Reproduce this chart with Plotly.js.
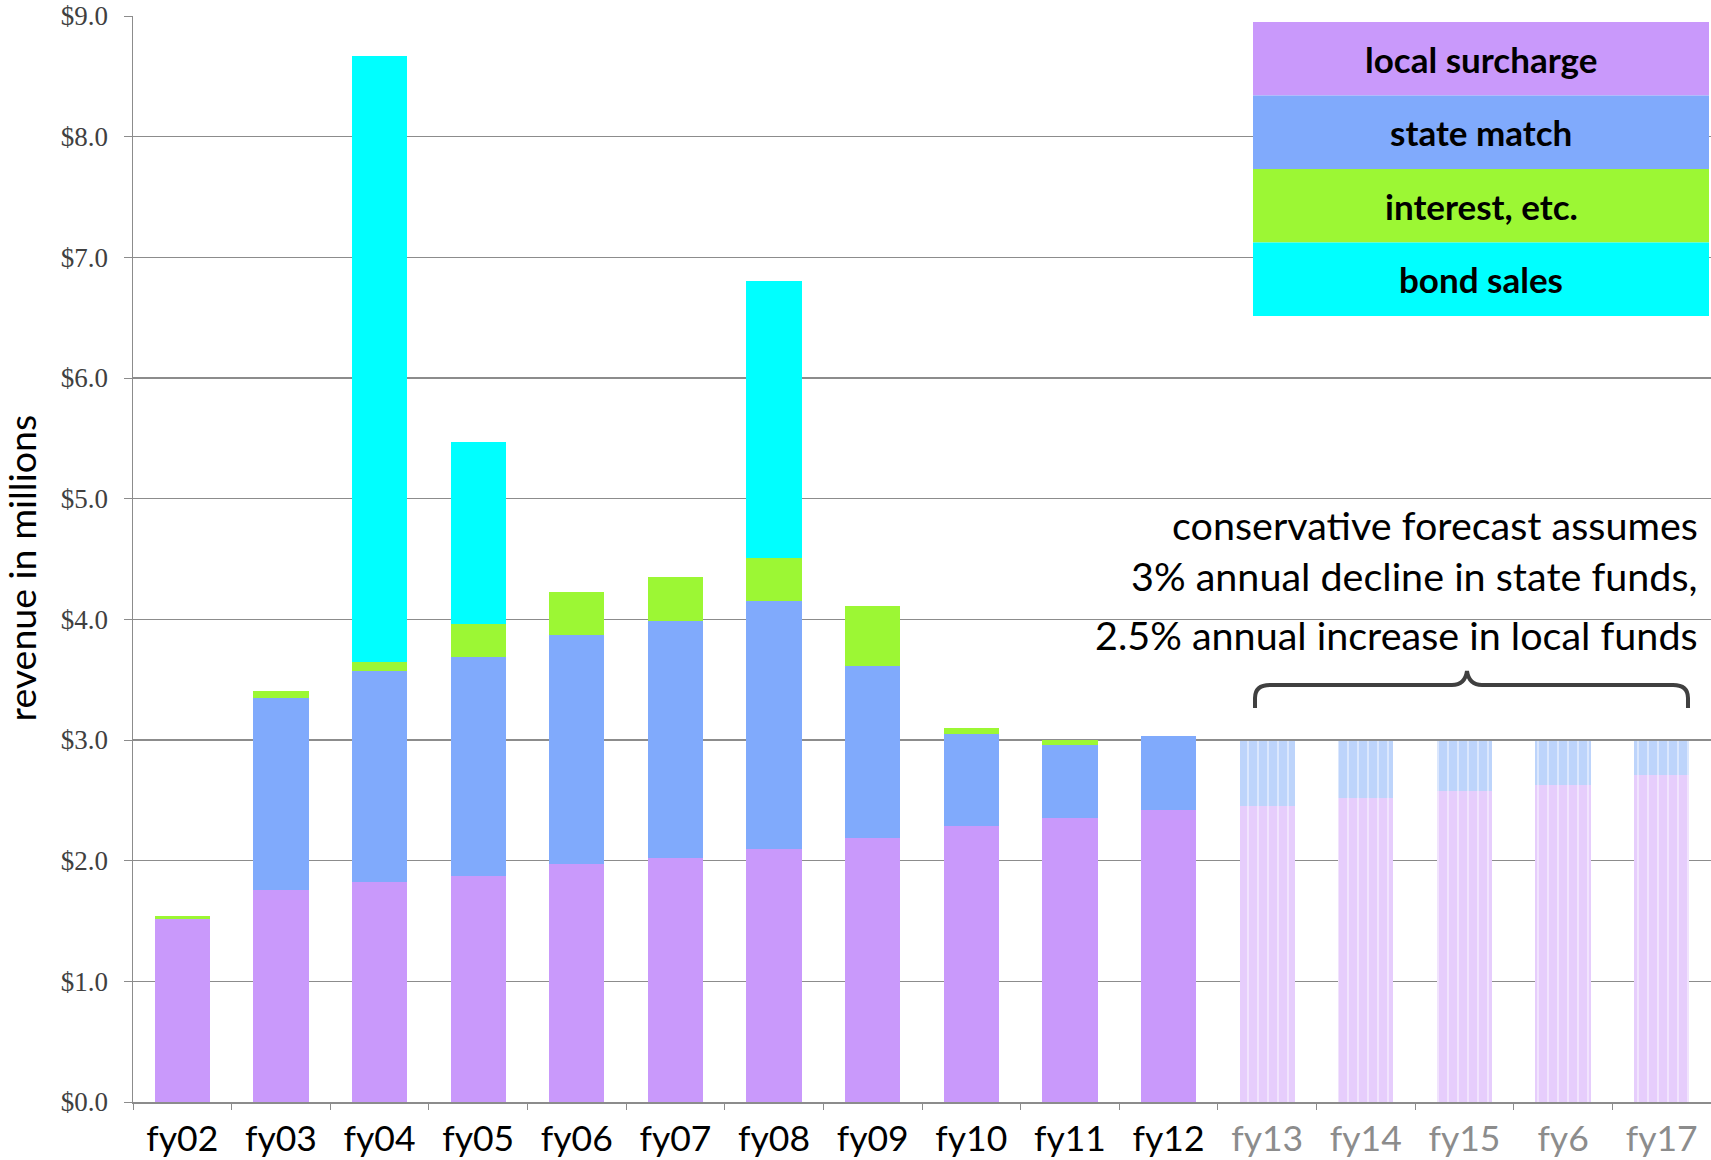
<!DOCTYPE html>
<html>
<head>
<meta charset="utf-8">
<script src="https://cdn.plot.ly/plotly-3.0.1.min.js"></script>
<style>html,body{margin:0;padding:0;background:#fff;}#chart{width:1711px;height:1160px;}</style>
</head>
<body>
<div id="chart"></div>
<script>
// ---- data (millions of dollars) ----
const years = ["fy02","fy03","fy04","fy05","fy06","fy07","fy08","fy09","fy10","fy11","fy12","fy13","fy14","fy15","fy6","fy17"];
const localSurcharge = [1.52,1.76,1.82,1.87,1.97,2.02,2.10,2.19,2.29,2.35,2.42,2.45,2.52,2.58,2.63,2.71];
const stateMatch     = [0.00,1.59,1.75,1.82,1.90,1.97,2.05,1.42,0.76,0.61,0.61,0.54,0.47,0.41,0.36,0.28];
const interestEtc    = [0.02,0.06,0.08,0.27,0.36,0.36,0.36,0.50,0.05,0.04,0.00,0,0,0,0,0];
const bondSales      = [0,0,5.02,1.51,0,0,2.29,0,0,0,0,0,0,0,0,0];
const forecastYears  = ["fy13","fy14","fy15","fy6","fy17"];
const seriesNames    = ["local surcharge","state match","interest, etc.","bond sales"];
const noteLines = ["conservative forecast assumes","3% annual decline in state funds,","2.5% annual increase in local funds"];
const yTitle = "revenue in millions";

// ---- styling ----
const sans = "Lato, 'Open Sans', sans-serif";
const isFc = years.map(y => forecastYears.includes(y));
const colLocal = "#c999fb", colLocalFc = "#e6cdfc";
const colState = "#80aafc", colStateFc = "#bdd4fb";
const colInt = "#9cf734", colBond = "#00ffff";

// historical part of each series
function histTrace(name, vals, col) {
  const xs = [], ys = [];
  years.forEach((y, i) => { if (!isFc[i]) { xs.push(y); ys.push(vals[i]); } });
  return {type: "bar", name: name, x: xs, y: ys, marker: {color: col, line: {width: 0}}, hoverinfo: "name+y"};
}
// forecast part (striped, lighter)
function fcTrace(name, vals, col) {
  const xs = [], ys = [];
  years.forEach((y, i) => { if (isFc[i]) { xs.push(y); ys.push(vals[i]); } });
  return {type: "bar", name: name + " (forecast)", x: xs, y: ys,
    marker: {color: col, line: {width: 0},
      pattern: {shape: "|", bgcolor: col, fgcolor: "#ffffff", fgopacity: 0.75, size: 10, solidity: 0.12, fillmode: "replace"}},
    hoverinfo: "name+y"};
}

const data = [
  histTrace(seriesNames[0], localSurcharge, colLocal),
  histTrace(seriesNames[1], stateMatch, colState),
  histTrace(seriesNames[2], interestEtc, colInt),
  histTrace(seriesNames[3], bondSales, colBond),
  fcTrace(seriesNames[0], localSurcharge, colLocalFc),
  fcTrace(seriesNames[1], stateMatch, colStateFc)
];

// pixel -> paper helpers (plot area: x 133..1711, y 16..1102)
const L = 133, W = 1578, T = 16, H = 1086;
const px = X => (X - L) / W;
const py = Y => 1 - (Y - T) / H;

const legendColors = [colLocal, colState, colInt, colBond];
const shapes = [];
const annotations = [];
const lgX0 = 1253, lgX1 = 1709, lgY0 = 22, bandH = 73.5;
seriesNames.forEach((n, i) => {
  shapes.push({type: "rect", xref: "paper", yref: "paper",
    x0: px(lgX0), x1: px(lgX1), y0: py(lgY0 + (i + 1) * bandH), y1: py(lgY0 + i * bandH),
    fillcolor: legendColors[i], line: {width: 0}, layer: "above"});
  annotations.push({xref: "paper", yref: "paper", x: px((lgX0 + lgX1) / 2), y: py(lgY0 + (i + 0.5) * bandH),
    text: "<b>" + n + "</b>", showarrow: false, xanchor: "center", yanchor: "middle",
    font: {family: sans, size: 35, color: "#000"}});
});

// forecast note
const noteY = [524, 575, 634];
noteLines.forEach((t, i) => {
  annotations.push({xref: "paper", yref: "paper", x: px(1700), y: py(noteY[i]),
    text: t, showarrow: false, xanchor: "right", yanchor: "middle",
    font: {family: sans, size: 39.5, color: "#000"}});
});

// y-axis title
annotations.push({xref: "paper", yref: "paper", x: px(-4), y: py(568), text: yTitle, textangle: -90,
  showarrow: false, xanchor: "left", yanchor: "middle", font: {family: sans, size: 37.5, color: "#000"}});

// brace
const P = (X, Y) => px(X).toFixed(5) + "," + py(Y).toFixed(5);
const bracePath = "M " + P(1255, 708) + " L " + P(1255, 698) + " Q " + P(1255, 685) + " " + P(1270, 685) +
  " L " + P(1452, 685) + " Q " + P(1465, 685) + " " + P(1467, 671) + " Q " + P(1469, 685) + " " + P(1482, 685) +
  " L " + P(1673, 685) + " Q " + P(1688, 685) + " " + P(1688, 698) + " L " + P(1688, 708);
shapes.push({type: "path", xref: "paper", yref: "paper", path: bracePath,
  line: {color: "#404040", width: 4}, layer: "above"});

const tickText = years.map((y, i) => isFc[i] ? "<span style='color:#8c8c8c'>" + y + "</span>" : y);

const layout = {
  width: 1711, height: 1160,
  margin: {l: L, r: 0, t: T, b: 58},
  paper_bgcolor: "#ffffff", plot_bgcolor: "#ffffff",
  barmode: "stack", bargap: 0.44,
  showlegend: false,
  xaxis: {
    type: "category", categoryorder: "array", categoryarray: years,
    tickmode: "array", tickvals: years, ticktext: tickText,
    tickfont: {family: sans, size: 35.5, color: "#000"},
    ticks: "outside", tickson: "boundaries", ticklen: 6, tickcolor: "#8c8c8c",
    ticklabelstandoff: 5,
    showline: true, linecolor: "#8c8c8c", linewidth: 1.5, showgrid: false,
    range: [-0.5, 15.5], fixedrange: true
  },
  yaxis: {
    range: [0, 9], dtick: 1, tick0: 0, tickprefix: "$", tickformat: ".1f",
    tickfont: {family: "'Liberation Serif', 'Times New Roman', serif", size: 27, color: "#404040"},
    ticks: "outside", ticklen: 8, tickcolor: "#8c8c8c", ticklabelstandoff: 10,
    showline: true, linecolor: "#8c8c8c", linewidth: 1.5,
    showgrid: true, gridcolor: "#8c8c8c", gridwidth: 1.2, zeroline: false,
    fixedrange: true
  },
  shapes: shapes,
  annotations: annotations
};

Plotly.newPlot("chart", data, layout, {displayModeBar: false, staticPlot: true});
</script>
</body>
</html>
